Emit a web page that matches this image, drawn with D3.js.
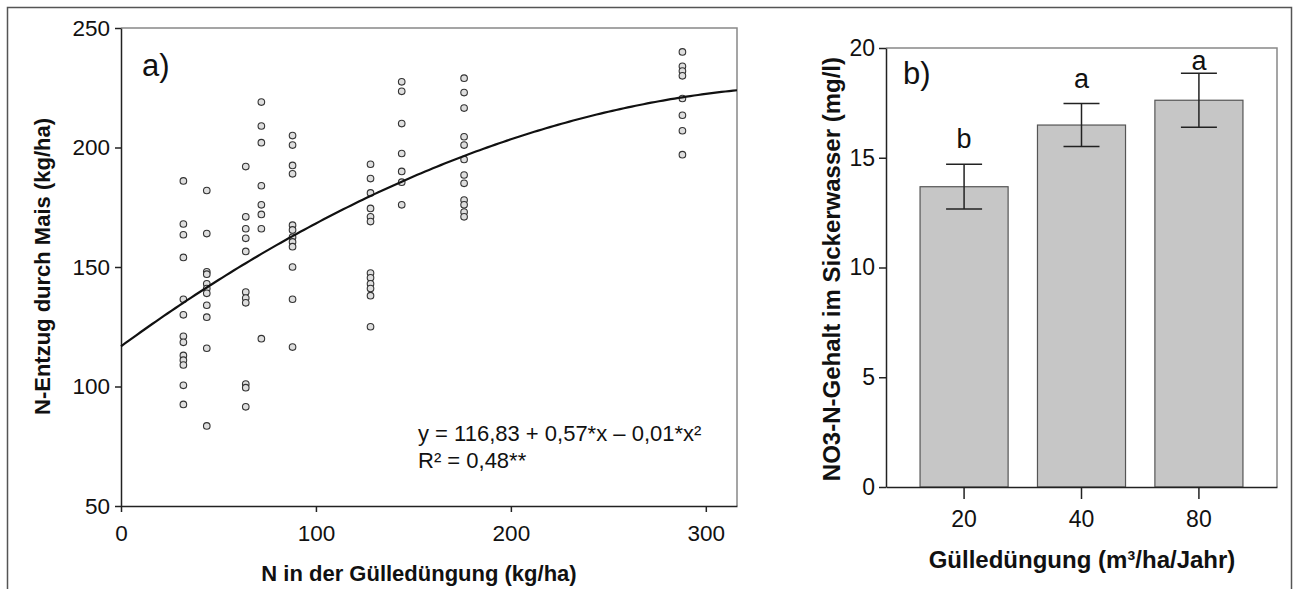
<!DOCTYPE html>
<html><head><meta charset="utf-8">
<script src="https://cdn.jsdelivr.net/npm/d3@7"></script>
<style>
html,body{margin:0;padding:0;background:#fff;}
text{font-family:"Liberation Sans",Arial,sans-serif;fill:#111;}
</style></head>
<body>
<svg id="c" width="1293" height="589"></svg>
<script>
// ---- Panel a) data: N in Gülledüngung (kg/ha) groups and N-Entzug values
const groupX = [32, 44, 64, 72, 88, 128, 144, 176, 288];
const groupY = [
  [186, 168, 163.5, 154, 136.5, 130, 121, 118.5, 113, 111, 109, 100.5, 92.5],
  [182, 164, 148, 147, 143, 141, 139, 134, 129, 116, 83.5],
  [192, 171, 166, 162, 156.5, 139.5, 137, 135, 101, 99.5, 91.5],
  [219, 209, 202, 184, 176, 172, 166, 120],
  [205, 201, 192.5, 189, 167.5, 165.5, 162.5, 160.5, 158.5, 150, 136.5, 116.5],
  [193, 187, 181, 174.5, 171, 169, 147.5, 145.5, 143, 141, 138, 125],
  [227.5, 223.5, 210, 197.5, 190, 185.5, 176],
  [229, 223, 216.5, 204.5, 201, 195, 188.5, 185, 178, 176, 173, 171],
  [240, 234, 232, 230, 220.5, 213.5, 207, 197]
];
const fitCoef = [116.83, 0.595, -0.00081]; // fitted quadratic curve
const xTicksA = [0, 100, 200, 300];
const yTicksA = [50, 100, 150, 200, 250];
const eqLines = ["y = 116,83 + 0,57*x \u2013 0,01*x\u00b2", "R\u00b2 = 0,48**"];

// ---- Panel b) data
const barCats = ["20", "40", "80"];
const barVals = [13.68, 16.49, 17.62];
const barErr = [1.02, 0.98, 1.23];
const barLetters = ["b", "a", "a"];
const yTicksB = [0, 5, 10, 15, 20];

const svg = d3.select("#c");
const font = '"Liberation Sans",Arial,sans-serif';

// outer frame
svg.append("rect").attr("x",7.5).attr("y",7.5).attr("width",1284).attr("height",600)
  .attr("fill","none").attr("stroke","#555").attr("stroke-width",1.5);

// ================= Panel a =================
const xA = d3.scaleLinear().domain([0, 316]).range([121, 737]);
const yA = d3.scaleLinear().domain([50, 250]).range([506, 28]);

const gA = svg.append("g");
gA.append("path").attr("d", `M${xA(0)},${yA(250)}H${xA(316)}V${yA(50)}`)
  .attr("fill","none").attr("stroke","#888").attr("stroke-width",1.5);

const axA_x = gA.append("g").attr("transform",`translate(0,${yA(50)})`)
  .call(d3.axisBottom(xA).tickValues(xTicksA).tickSize(6).tickSizeOuter(0).tickPadding(13));
const axA_y = gA.append("g").attr("transform",`translate(${xA(0)},0)`)
  .call(d3.axisLeft(yA).tickValues(yTicksA).tickSize(6).tickSizeOuter(0).tickPadding(5));
[axA_x, axA_y].forEach(a=>{
  a.selectAll("path,line").attr("stroke","#222").attr("stroke-width",1.5);
  a.selectAll("text").attr("font-size",22.5).attr("font-family",font).attr("fill","#111");
});

// points
const pts = [];
groupX.forEach((x,i)=>groupY[i].forEach(v=>pts.push([x,v])));
gA.append("g").selectAll("circle").data(pts).join("circle")
  .attr("cx",d=>xA(d[0])).attr("cy",d=>yA(d[1])).attr("r",3.3)
  .attr("fill","#dedede").attr("stroke","#333").attr("stroke-width",1.1);

// fit curve
const curveX = d3.range(0, 316.01, 2);
const line = d3.line().x(d=>xA(d)).y(d=>yA(fitCoef[0]+fitCoef[1]*d+fitCoef[2]*d*d));
gA.append("path").datum(curveX).attr("d",line).attr("fill","none")
  .attr("stroke","#111").attr("stroke-width",2.2);

gA.append("text").attr("x",142).attr("y",76).attr("font-size",31).text("a)");
gA.selectAll(".eq").data(eqLines).join("text").attr("class","eq")
  .attr("x",418).attr("y",(d,i)=>441+i*27).attr("font-size",22).text(d=>d);

gA.append("text").attr("x",419).attr("y",581).attr("text-anchor","middle")
  .attr("font-size",22).attr("font-weight","bold").text("N in der Gülledüngung (kg/ha)");
gA.append("text").attr("transform",`translate(50,118) rotate(-90)`)
  .attr("text-anchor","end").attr("font-size",22).attr("font-weight","bold")
  .text("N-Entzug durch Mais (kg/ha)");

// ================= Panel b =================
const xB = d3.scaleBand().domain(barCats).range([886, 1277]).paddingInner(0.25).paddingOuter(0.29);
const yB = d3.scaleLinear().domain([0, 20]).range([487, 48]);
const gB = svg.append("g");
gB.append("path").attr("d", `M886,${yB(20)}H1277V${yB(0)}`)
  .attr("fill","none").attr("stroke","#888").attr("stroke-width",1.5);

gB.selectAll("rect.bar").data(barVals).join("rect").attr("class","bar")
  .attr("x",(d,i)=>xB(barCats[i])).attr("width",xB.bandwidth())
  .attr("y",d=>yB(d)).attr("height",d=>yB(0)-yB(d))
  .attr("fill","#c6c6c6").attr("stroke","#555").attr("stroke-width",1.2);

const eb = gB.append("g");
barVals.forEach((v,i)=>{
  const cx = xB(barCats[i]) + xB.bandwidth()/2;
  const hi = yB(v+barErr[i]), lo = yB(v-barErr[i]);
  eb.append("line").attr("x1",cx).attr("x2",cx).attr("y1",hi).attr("y2",lo);
  eb.append("line").attr("x1",cx-18).attr("x2",cx+18).attr("y1",hi).attr("y2",hi);
  eb.append("line").attr("x1",cx-18).attr("x2",cx+18).attr("y1",lo).attr("y2",lo);
  gB.append("text").attr("x",cx).attr("y",Math.max(hi-16, yB(20)+22))
    .attr("text-anchor","middle").attr("font-size",27).text(barLetters[i]);
});
eb.selectAll("line").attr("stroke","#222").attr("stroke-width",1.5);

const axB_x = gB.append("g").attr("transform",`translate(0,${yB(0)})`)
  .call(d3.axisBottom(xB).tickSize(12).tickSizeOuter(0).tickPadding(12));
const axB_y = gB.append("g").attr("transform",`translate(886,0)`)
  .call(d3.axisLeft(yB).tickValues(yTicksB).tickSize(7).tickSizeOuter(0).tickPadding(4));
[axB_x, axB_y].forEach(a=>{
  a.selectAll("path,line").attr("stroke","#222").attr("stroke-width",1.5);
  a.selectAll("text").attr("font-size",23).attr("font-family",font).attr("fill","#111");
});

gB.append("text").attr("x",903).attr("y",84).attr("font-size",31).text("b)");
gB.append("text").attr("x",1082).attr("y",568).attr("text-anchor","middle")
  .attr("font-size",24).attr("font-weight","bold").text("Gülledüngung (m³/ha/Jahr)");
gB.append("text").attr("transform",`translate(840,57) rotate(-90)`)
  .attr("text-anchor","end").attr("font-size",24).attr("font-weight","bold")
  .text("NO3-N-Gehalt im Sickerwasser (mg/l)");
</script>
</body></html>
